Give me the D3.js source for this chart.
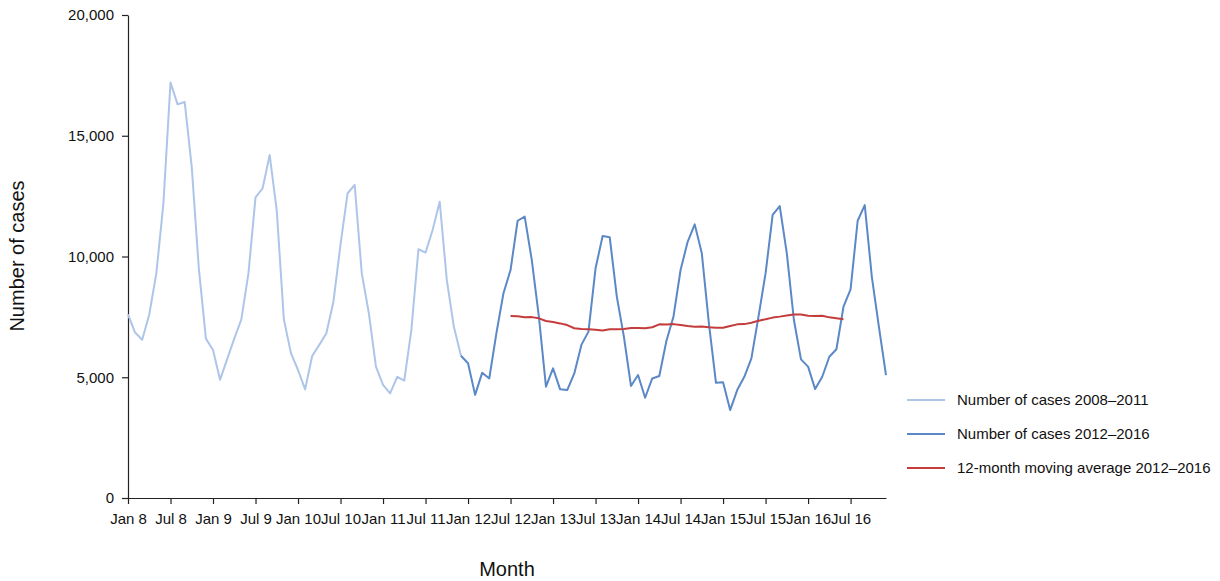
<!DOCTYPE html>
<html>
<head>
<meta charset="utf-8">
<script src="https://cdn.jsdelivr.net/npm/d3@7"></script>
<style>
  body { margin: 0; background: #fff; }
  svg { display: block; font-family: "Liberation Sans", Arial, sans-serif; }
</style>
</head>
<body>
<svg id="chart" width="1220" height="581"></svg>
<script>
// Monthly number of cases, Jan 2008 (index 0) .. Dec 2016 (index 107)
const cases2008_2011 = [
  7600, 6850, 6550, 7600, 9300, 12200, 17200, 16300, 16400, 13700, 9500, 6600,
  6130, 4900, 5750, 6600, 7400, 9300, 12450, 12820, 14200, 11900, 7400, 6000,
  5300, 4500, 5880, 6340, 6820, 8130, 10500, 12620, 12960, 9300, 7650, 5440,
  4680, 4330, 5020, 4860, 6960, 10300, 10160, 11100, 12270, 9030, 7090, 5890
];
const cases2012_2016 = [
  5580, 4270, 5190, 4950, 6820, 8480, 9440, 11480, 11650, 9850, 7510, 4610,
  5370, 4500, 4470, 5160, 6340, 6890, 9510, 10850, 10800, 8340, 6680, 4640,
  5090, 4150, 4950, 5050, 6500, 7510, 9440, 10610, 11330, 10130, 7230, 4770,
  4790, 3640, 4470, 5020, 5780, 7510, 9300, 11720, 12090, 10130, 7370, 5740,
  5440, 4510, 5020, 5850, 6160, 7920, 8640, 11480, 12130, 9160, 7090, 5090
];
// 12-month moving average, Jul 2012 (index 54) .. Jun 2016 (index 101)
const movingAvg2012_2016 = [
  7540, 7530, 7480, 7490, 7440, 7330, 7290, 7230, 7160, 7030, 7000, 6985,
  6970, 6940, 6985, 6985, 7000, 7040, 7040, 7030, 7070, 7190, 7180, 7200,
  7160, 7120, 7090, 7100, 7070, 7050, 7050, 7120, 7190, 7200, 7260, 7340,
  7400, 7470, 7510, 7560, 7600, 7600, 7550, 7540, 7550, 7480, 7440, 7400
];
const monthNames = ["Jan", "Jul"];
const yTicks = [0, 5000, 10000, 15000, 20000];
const legendLabels = [
  "Number of cases 2008\u20132011",
  "Number of cases 2012\u20132016",
  "12-month moving average 2012\u20132016"
];
const colors = ["#aec5ea", "#5b88c6", "#c43c3c"];

const svg = d3.select("#chart");
const x = d3.scaleLinear().domain([0, 107]).range([128, 886]);
const y = d3.scaleLinear().domain([0, 20000]).range([498, 15]);

// Build point lists
const s1 = cases2008_2011.map((v, i) => ({ i, v }));
const s2 = [{ i: 47, v: cases2008_2011[47] }].concat(cases2012_2016.map((v, k) => ({ i: 48 + k, v })));
const s3 = movingAvg2012_2016.map((v, k) => ({ i: 54 + k, v }));

const tickIdx = d3.range(0, 108, 6);
const xAxis = d3.axisBottom(x).tickValues(tickIdx).tickSize(6).tickSizeOuter(0)
  .tickFormat(i => monthNames[(i / 6) % 2] + " " + (8 + Math.floor(i / 12)));
const yAxis = d3.axisLeft(y).tickValues(yTicks).tickSize(6).tickSizeOuter(0)
  .tickFormat(d3.format(","));

const gx = svg.append("g").attr("transform", "translate(0,498)").call(xAxis);
const gy = svg.append("g").attr("transform", "translate(128,0)").call(yAxis);
[gx, gy].forEach(g => {
  g.selectAll("path,line").attr("stroke", "#222").attr("stroke-width", 1.2);
  g.selectAll("text").attr("font-size", 15).attr("fill", "#111")
    .attr("font-family", "'Liberation Sans', Arial, sans-serif");
});
gx.selectAll("text").attr("dy", "1.1em");
gy.selectAll("text").attr("x", -14);

const line = d3.line().x(d => x(d.i)).y(d => y(d.v));
[s1, s2, s3].forEach((s, k) => {
  svg.append("path").datum(s).attr("d", line)
    .attr("fill", "none").attr("stroke", colors[k]).attr("stroke-width", 2)
    .attr("stroke-linejoin", "round");
});

// Axis titles
svg.append("text").attr("x", 507).attr("y", 576).attr("text-anchor", "middle")
  .attr("font-size", 20).attr("fill", "#111").text("Month");
svg.append("text").attr("transform", "translate(24,256) rotate(-90)")
  .attr("text-anchor", "middle").attr("font-size", 20).attr("fill", "#111")
  .text("Number of cases");

// Legend
const lg = svg.append("g");
legendLabels.forEach((t, k) => {
  const yy = 400 + k * 34;
  lg.append("line").attr("x1", 907).attr("x2", 945).attr("y1", yy).attr("y2", yy)
    .attr("stroke", colors[k]).attr("stroke-width", 2);
  lg.append("text").attr("x", 957).attr("y", yy).attr("dy", "0.35em")
    .attr("font-size", 15).attr("fill", "#111").text(t);
});
</script>
</body>
</html>
